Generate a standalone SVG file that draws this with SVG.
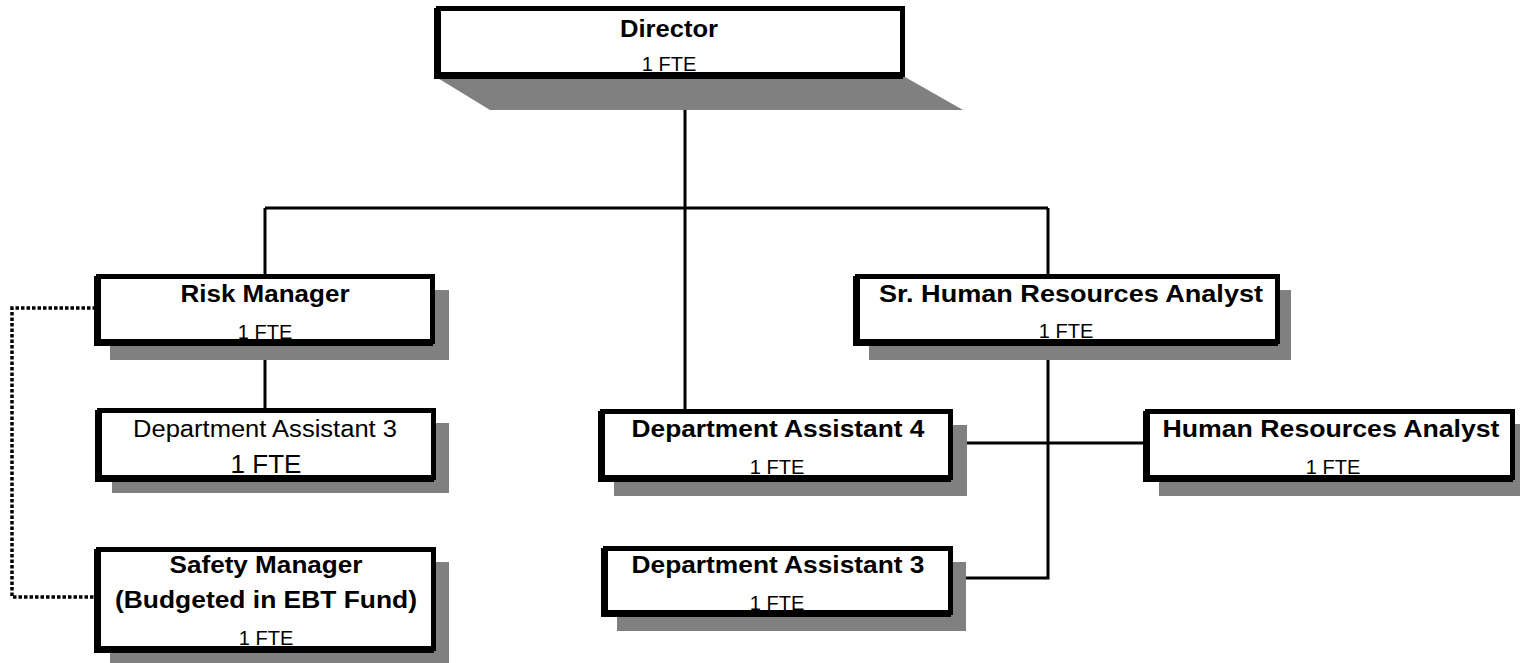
<svg xmlns="http://www.w3.org/2000/svg" width="1520" height="663" viewBox="0 0 1520 663">
<style>
.sh{fill:#808080;stroke:none}
.bk{fill:#000;stroke:none}
.bx{fill:#fff;stroke:#000;stroke-width:5}
.t{font-family:"Liberation Sans",Arial,sans-serif;font-weight:bold;font-size:23px;fill:#000;text-anchor:middle}
.r{font-family:"Liberation Sans",Arial,sans-serif;font-size:20px;fill:#000;text-anchor:middle}
.ln{fill:none;stroke:#000;stroke-width:3}
.dot{fill:none;stroke:#000;stroke-width:3.5;stroke-dasharray:3.5 2}
</style>
<rect width="1520" height="663" fill="#fff"/>
<g id="connectors">
<path class="ln" d="M685 110 V409"/>
<path class="ln" d="M265 208 H1048"/>
<path class="ln" d="M265 208 V274"/>
<path class="ln" d="M1048 208 V274"/>
<path class="ln" d="M265 360 V408"/>
<path class="ln" d="M1048 360 V578 H966"/>
<path class="ln" d="M967 443 H1145"/>
<path class="dot" d="M96 308 H12 V597 H96"/>
</g>
<g id="director">
<polygon class="sh" points="436,77 905,77 963,110 490,110"/>
<rect class="bk" x="434" y="8" width="469" height="71"/>
<rect class="bx" x="438.5" y="8.5" width="464" height="66"/>
<text class="t" x="669" y="37" textLength="98" lengthAdjust="spacingAndGlyphs">Director</text>
<text class="r" x="669" y="71">1 FTE</text>
</g>
<g id="risk-manager">
<rect class="sh" x="110" y="290" width="339" height="70"/>
<rect class="bk" x="94" y="276" width="339" height="70"/>
<rect class="bx" x="98.5" y="276.5" width="334" height="65"/>
<text class="t" x="265" y="302" textLength="169" lengthAdjust="spacingAndGlyphs">Risk Manager</text>
<text class="r" x="265" y="339">1 FTE</text>
</g>
<g id="dept-assistant-3-left">
<rect class="sh" x="112" y="423" width="337" height="70"/>
<rect class="bk" x="95" y="410" width="339" height="72"/>
<rect class="bx" x="99.5" y="410.5" width="334" height="67"/>
<text class="r" x="265" y="437" style="font-size:23px" textLength="264" lengthAdjust="spacingAndGlyphs">Department Assistant 3</text>
<text class="r" x="266" y="473" style="font-size:26px">1 FTE</text>
</g>
<g id="safety-manager">
<rect class="sh" x="110" y="562" width="339" height="104"/>
<rect class="bk" x="94" y="549" width="340" height="104"/>
<rect class="bx" x="98.5" y="549.5" width="335" height="99"/>
<text class="t" x="266" y="573" textLength="193" lengthAdjust="spacingAndGlyphs">Safety Manager</text>
<text class="t" x="266" y="608" textLength="302" lengthAdjust="spacingAndGlyphs">(Budgeted in EBT Fund)</text>
<text class="r" x="266" y="645">1 FTE</text>
</g>
<g id="dept-assistant-4">
<rect class="sh" x="614" y="425" width="353" height="71"/>
<rect class="bk" x="598" y="411" width="353" height="71"/>
<rect class="bx" x="602.5" y="411.5" width="348" height="66"/>
<text class="t" x="778" y="437" textLength="293" lengthAdjust="spacingAndGlyphs">Department Assistant 4</text>
<text class="r" x="777" y="474">1 FTE</text>
</g>
<g id="dept-assistant-3-mid">
<rect class="sh" x="617" y="562" width="349" height="69"/>
<rect class="bk" x="601" y="548" width="350" height="69"/>
<rect class="bx" x="605.5" y="548.5" width="345" height="64"/>
<text class="t" x="778" y="573" textLength="293" lengthAdjust="spacingAndGlyphs">Department Assistant 3</text>
<text class="r" x="777" y="610">1 FTE</text>
</g>
<g id="sr-hr-analyst">
<rect class="sh" x="869" y="290" width="422" height="70"/>
<rect class="bk" x="853" y="276" width="425" height="70"/>
<rect class="bx" x="857.5" y="276.5" width="420" height="65"/>
<text class="t" x="1071" y="302" textLength="384" lengthAdjust="spacingAndGlyphs">Sr. Human Resources Analyst</text>
<text class="r" x="1066" y="338">1 FTE</text>
</g>
<g id="hr-analyst">
<rect class="sh" x="1159" y="424" width="370" height="72"/>
<rect class="bk" x="1143" y="411" width="370" height="71"/>
<rect class="bx" x="1147.5" y="411.5" width="365" height="66"/>
<text class="t" x="1331" y="437" textLength="337" lengthAdjust="spacingAndGlyphs">Human Resources Analyst</text>
<text class="r" x="1333" y="474">1 FTE</text>
</g>
</svg>
